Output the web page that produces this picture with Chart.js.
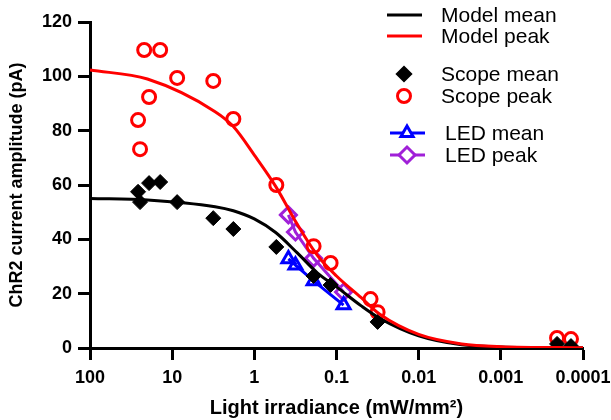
<!DOCTYPE html>
<html lang="en">
<head>
  <meta charset="UTF-8">
  <title>ChR2 current amplitude</title>
  <script src="https://cdn.jsdelivr.net/npm/chart.js"></script>
  <style>
    html, body { margin: 0; padding: 0; background: #fff; }
    #wrap { width: 611px; height: 420px; }
  </style>
</head>
<body>
  <div id="wrap"><canvas id="grafico"></canvas></div>

  <script>
    // x axis ticks (log, reversed)
    const xTicks = [100, 10, 1, 0.1, 0.01, 0.001, 0.0001];

    // model curves
    const modelX = [100, 20, 3, 1.8, 1, 0.55, 0.3, 0.17, 0.1, 0.05, 0.03, 0.01, 0.003, 0.001, 0.0001];
    const modelMean = [55, 54.5, 52, 50.5, 47.5, 42.5, 35, 27.6, 22.5, 15.5, 11, 4.5, 1.2, 0.4, 0.05];
    const modelPeak = [102.3, 99, 87, 81.5, 71, 59.5, 45.5, 34, 26.5, 18.5, 12.5, 5, 1.5, 0.5, 0.1];

    // scope measurements
    const scopePeakX = [26, 24.6, 21.9, 19.1, 14, 8.7, 3.16, 1.8, 0.54, 0.19, 0.118, 0.0385, 0.0316, 0.000207, 0.00014];
    const scopePeak = [83.9, 73.2, 109.7, 92.4, 109.7, 99.4, 98.3, 84.3, 60, 37.5, 31.3, 18, 13.2, 3.7, 3.3];
    const scopeMeanX = [26, 24.6, 19.1, 14, 8.7, 3.16, 1.8, 0.54, 0.19, 0.118, 0.0316, 0.000207, 0.00014];
    const scopeMean = [57.5, 53.7, 60.7, 61.1, 53.7, 47.8, 43.8, 37.2, 26.5, 23.2, 9.6, 1.5, 0.7];

    // LED measurements
    const ledX = [0.385, 0.316, 0.19, 0.082];
    const ledMean = [32.8, 30.5, 24.7, 15.8];
    const ledPeak = [49, 42.7, 33, 20.6];

    const pts = (xs, ys) => xs.map((x, i) => ({ x, y: ys[i] }));
    const PURPLE = '#a020d8';

    Chart.defaults.font.family = '"Liberation Sans", Arial, sans-serif';
    Chart.defaults.color = '#000';

    // legend drawn by hand to keep the grouped layout
    const legendaPlugin = {
      id: 'legenda',
      afterDraw(chart) {
        const ctx = chart.ctx;
        const dp = Chart.helpers.drawPoint;
        ctx.save();
        ctx.font = '21px "Liberation Sans", Arial, sans-serif';
        ctx.textBaseline = 'middle';
        ctx.fillStyle = '#000';
        ctx.lineWidth = 3;

        const line = (x1, x2, y, color) => {
          ctx.strokeStyle = color;
          ctx.beginPath(); ctx.moveTo(x1, y); ctx.lineTo(x2, y); ctx.stroke();
        };
        const mark = (style, r, x, y, color, fill) => {
          ctx.strokeStyle = color;
          ctx.fillStyle = fill;
          dp(ctx, { pointStyle: style, radius: r, rotation: 0, borderWidth: 3 }, x, y);
        };
        const txt = (t, x, y) => { ctx.fillStyle = '#000'; ctx.fillText(t, x, y); };

        line(387, 422, 15, '#000');
        txt('Model mean', 441, 16);
        line(387, 422, 36, '#f00');
        txt('Model peak', 441, 37);

        mark('rectRot', 6.5, 404, 74, '#000', '#000');
        txt('Scope mean', 441, 75);
        mark('circle', 6.5, 404, 96, '#f00', 'rgba(0,0,0,0)');
        txt('Scope peak', 441, 97);

        line(390, 425, 133, '#00f');
        mark('triangle', 7, 407, 133, '#00f', '#fff');
        txt('LED mean', 445, 134);
        line(390, 425, 155, PURPLE);
        mark('rectRot', 8, 407, 155, PURPLE, '#fff');
        txt('LED peak', 445, 156);
        ctx.restore();
      }
    };

    new Chart(document.getElementById('grafico'), {
      type: 'scatter',
      data: {
        datasets: [
          {
            label: 'Model peak',
            data: pts(modelX, modelPeak),
            showLine: true,
            borderColor: '#f00',
            borderWidth: 3,
            pointRadius: 0,
            cubicInterpolationMode: 'monotone'
          },
          {
            label: 'Model mean',
            data: pts(modelX, modelMean),
            showLine: true,
            borderColor: '#000',
            borderWidth: 3,
            pointRadius: 0,
            cubicInterpolationMode: 'monotone'
          },
          {
            label: 'Scope mean',
            data: pts(scopeMeanX, scopeMean),
            pointStyle: 'rectRot',
            pointRadius: 7.5,
            backgroundColor: '#000',
            borderColor: '#000',
            borderWidth: 1
          },
          {
            label: 'Scope peak',
            data: pts(scopePeakX, scopePeak),
            pointStyle: 'circle',
            pointRadius: 6.5,
            backgroundColor: 'rgba(0,0,0,0)',
            borderColor: '#f00',
            borderWidth: 3
          },
          {
            label: 'LED mean',
            data: pts(ledX, ledMean),
            showLine: true,
            pointStyle: 'triangle',
            pointRadius: 7.5,
            backgroundColor: 'rgba(0,0,0,0)',
            borderColor: '#00f',
            borderWidth: 3
          },
          {
            label: 'LED peak',
            data: pts(ledX, ledPeak),
            showLine: true,
            pointStyle: 'rectRot',
            pointRadius: 8,
            backgroundColor: 'rgba(0,0,0,0)',
            borderColor: PURPLE,
            borderWidth: 3
          }
        ]
      },
      options: {
        responsive: true,
        maintainAspectRatio: false,
        animation: false,
        layout: { padding: { top: 22, right: 28, left: 0, bottom: 0 } },
        plugins: {
          legend: { display: false },
          tooltip: { enabled: false }
        },
        scales: {
          x: {
            type: 'logarithmic',
            reverse: true,
            min: 0.0001,
            max: 100,
            afterBuildTicks: (scale) => { scale.ticks = xTicks.map(v => ({ value: v })); },
            afterFit: (scale) => {
              scale.height = 72;
              scale.paddingLeft = 0;
              scale.paddingRight = 0;
            },
            border: { display: true, color: '#000', width: 3 },
            grid: { drawOnChartArea: false, drawTicks: true, tickLength: 12, tickWidth: 3, tickColor: '#000' },
            ticks: {
              autoSkip: false,
              maxRotation: 0,
              padding: 7,
              font: { size: 18, weight: 'bold' },
              callback: (v) => String(v)
            },
            title: {
              display: true,
              text: 'Light irradiance (mW/mm²)',
              font: { size: 20, weight: 'bold' },
              padding: { top: 0, bottom: 0 }
            }
          },
          y: {
            min: 0,
            max: 120,
            afterFit: (scale) => { scale.width = 90; },
            border: { display: true, color: '#000', width: 3 },
            grid: { drawOnChartArea: false, drawTicks: true, tickLength: 12, tickWidth: 3, tickColor: '#000' },
            ticks: {
              stepSize: 20,
              padding: 6,
              font: { size: 18, weight: 'bold' }
            },
            title: {
              display: true,
              text: 'ChR2 current amplitude (pA)',
              font: { size: 18, weight: 'bold' },
              padding: { top: 6, bottom: 0 }
            }
          }
        }
      },
      plugins: [legendaPlugin]
    });
  </script>
</body>
</html>
